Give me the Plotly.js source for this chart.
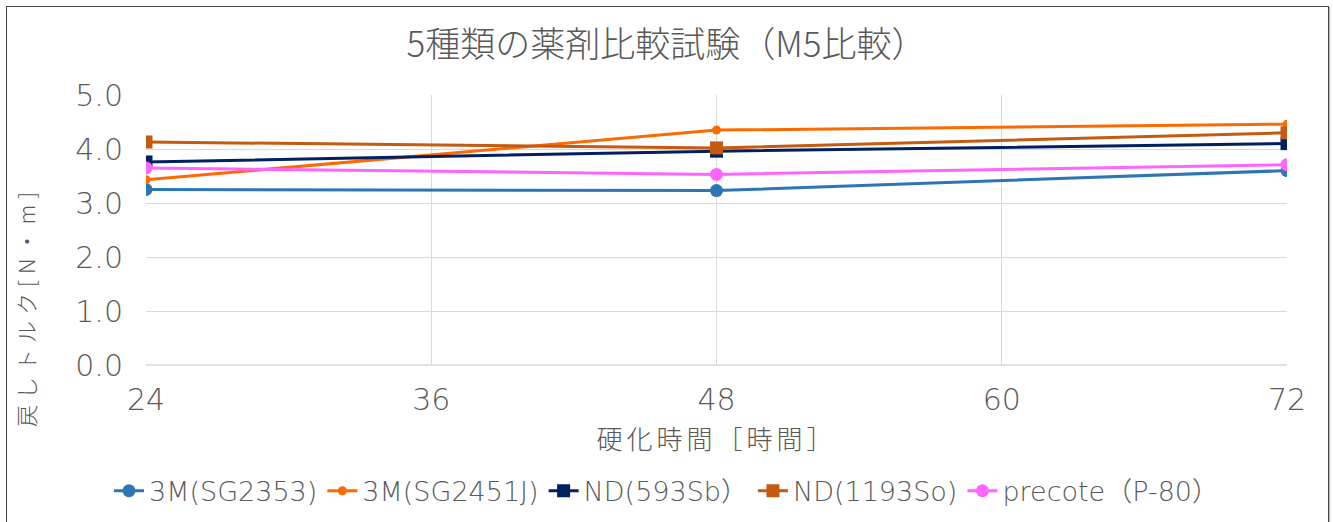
<!DOCTYPE html>
<html>
<head>
<meta charset="utf-8">
<script src="https://cdn.plot.ly/plotly-3.0.1.min.js"></script>
<style>
body{margin:0;padding:0;background:#fff;overflow:hidden;}
#wrap{position:relative;width:1333px;height:522px;}
#chart{position:absolute;left:0;top:0;width:1333px;height:522px;}
#frame{position:absolute;left:6px;top:6px;width:1321px;height:530px;border:1.5px solid #444;box-shadow:1px 1px 1px #bbb;pointer-events:none;}
.annotation-text{letter-spacing:6px;}
.xtitle{letter-spacing:4px;}
</style>
</head>
<body>
<div id="wrap"><div id="chart"></div><div id="frame"></div></div>
<script>
const hours = [24, 48, 72];
const seriesNames = ["3M(SG2353)", "3M(SG2451J)", "ND(593Sb）", "ND(1193So)", "precote（P-80）"];
const sg2353 = [3.25, 3.23, 3.60];
const sg2451j = [3.43, 4.35, 4.46];
const nd593 = [3.76, 3.96, 4.10];
const nd1193 = [4.13, 4.02, 4.30];
const precote = [3.65, 3.53, 3.71];
const xTicks = [24, 36, 48, 60, 72];
const yTicks = [0, 1, 2, 3, 4, 5];
const yTickText = ["0.0", "1.0", "2.0", "3.0", "4.0", "5.0"];
const yTitle = "戻しトルク[N・m]";

const jpFont = "'Noto Sans CJK JP', 'Noto Sans', sans-serif";
const numFont = "'DejaVu Sans', 'Noto Sans CJK JP', sans-serif";
const grey = "#595959";

function tr(name, y, color, symbol, size){
  return {x: hours, y: y, name: name, type: "scatter", mode: "lines+markers",
    line: {color: color, width: 3}, marker: {color: color, symbol: symbol, size: size}};
}
const data = [
  tr(seriesNames[0], sg2353, "#2E75B6", "circle", 13),
  tr(seriesNames[1], sg2451j, "#FF6A00", "circle", 9),
  tr(seriesNames[2], nd593, "#002060", "square", 13),
  tr(seriesNames[3], nd1193, "#C55A11", "square", 13),
  tr(seriesNames[4], precote, "#FF66FF", "circle", 13)
];
const layout = {
  width: 1333, height: 522,
  margin: {l: 146, r: 46, t: 95, b: 157},
  paper_bgcolor: "rgba(0,0,0,0)", plot_bgcolor: "#fff",
  font: {family: jpFont, color: grey},
  title: {text: "5種類の薬剤比較試験（M5比較）", font: {size: 35, color: grey, family: jpFont, weight: 300},
    x: 0.5, xref: "container", xanchor: "center", y: 0.914, yref: "container", yanchor: "middle"},
  xaxis: {range: [24, 72], tickvals: xTicks, ticktext: xTicks.map(String), showgrid: true, gridcolor: "#d9d9d9", gridwidth: 1,
    zeroline: false, showline: false, ticks: "", ticklabelstandoff: 14,
    tickfont: {size: 30, color: grey, family: numFont, weight: 200},
    title: {text: "硬化時間［時間］", font: {size: 26, color: grey, family: jpFont, weight: 300}, standoff: 14}},
  yaxis: {range: [0, 5], tickvals: yTicks, ticktext: yTickText, showgrid: true, gridcolor: "#d9d9d9", gridwidth: 1,
    zeroline: false, showline: false, ticks: "", ticklabelstandoff: 22,
    tickfont: {size: 30, color: grey, family: numFont, weight: 200}},
  annotations: [
    {text: yTitle, textangle: -90, xref: "paper", yref: "paper", x: -0.106, y: 0.215, xanchor: "center", yanchor: "middle",
     showarrow: false, font: {size: 22, color: grey, family: jpFont, weight: 300}}
  ],
  shapes: [
    {type: "line", xref: "paper", yref: "paper", x0: 0, x1: 1, y0: 0, y1: 0, line: {color: "#d9d9d9", width: 1.5}}
  ],
  legend: {orientation: "h", x: 0.5, xref: "container", xanchor: "center", y: 0.059, yref: "container", yanchor: "middle",
    font: {size: 27, color: grey, family: numFont, weight: 200}, itemwidth: 30, tracegroupgap: 0},
  showlegend: true
};
Plotly.newPlot("chart", data, layout, {displayModeBar: false, staticPlot: true});
</script>
</body>
</html>
